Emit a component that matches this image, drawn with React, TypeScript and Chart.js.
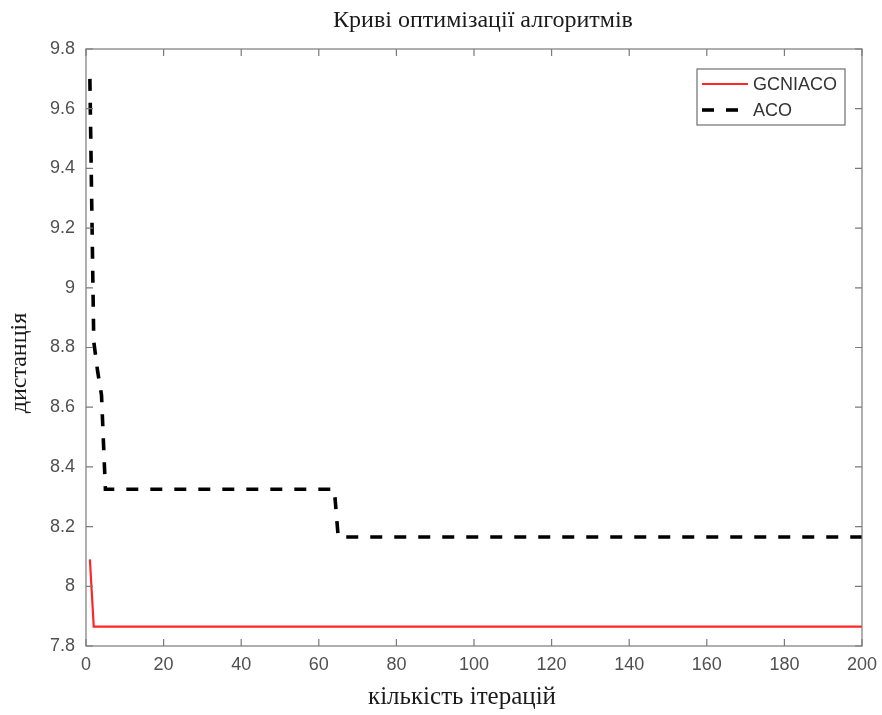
import React, { useEffect, useRef } from 'react';
import { Chart, registerables } from 'chart.js';

Chart.register(...registerables);

const chartTitle = 'Криві оптимізації алгоритмів';
const xAxisTitle = 'кількість ітерацій';
const yAxisTitle = 'дистанція';

const seriesNames = ['GCNIACO', 'ACO'];
// step-change points (values are constant between them)
const gcniacoIter = [1, 2, 200];
const gcniacoDist = [8.09, 7.865, 7.865];
const acoIter = [1, 2, 3, 4, 5, 64, 65, 200];
const acoDist = [9.7, 8.82, 8.72, 8.64, 8.325, 8.325, 8.165, 8.165];

const xMin = 0;
const xMax = 200;
const xStep = 20;
const yMin = 7.8;
const yMax = 9.8;
const yStep = 0.2;

const AXIS_GREY = '#7a7a7a';
const TICK_TEXT = '#505050';
const SANS = '"Liberation Sans", Arial, sans-serif';
const SERIF = '"Liberation Serif", "Times New Roman", serif';

const framePlugin = {
  id: 'matlabFrame',
  afterDatasetsDraw(chart: any) {
    const { ctx, chartArea: a, scales } = chart;
    ctx.save();
    // frame
    ctx.strokeStyle = AXIS_GREY;
    ctx.lineWidth = 1.2;
    ctx.strokeRect(a.left, a.top, a.right - a.left, a.bottom - a.top);
    // inner ticks on all four sides
    const tl = 7;
    ctx.beginPath();
    scales.x.ticks.forEach((t: any) => {
      const px = scales.x.getPixelForValue(t.value);
      ctx.moveTo(px, a.bottom);
      ctx.lineTo(px, a.bottom - tl);
      ctx.moveTo(px, a.top);
      ctx.lineTo(px, a.top + tl);
    });
    scales.y.ticks.forEach((t: any) => {
      const py = scales.y.getPixelForValue(t.value);
      ctx.moveTo(a.left, py);
      ctx.lineTo(a.left + tl, py);
      ctx.moveTo(a.right, py);
      ctx.lineTo(a.right - tl, py);
    });
    ctx.stroke();

    // legend box (top-right inside plot)
    const bw = 148;
    const bh = 56;
    const bx = a.right - 17 - bw;
    const by = a.top + 20;
    ctx.fillStyle = '#ffffff';
    ctx.fillRect(bx, by, bw, bh);
    ctx.strokeStyle = AXIS_GREY;
    ctx.lineWidth = 1.3;
    ctx.strokeRect(bx, by, bw, bh);
    chart.data.datasets.forEach((ds: any, i: number) => {
      const y = by + 15 + i * 26;
      ctx.save();
      ctx.strokeStyle = ds.borderColor;
      ctx.lineWidth = ds.borderWidth;
      ctx.setLineDash(ds.borderDash || []);
      ctx.beginPath();
      ctx.moveTo(bx + 5, y);
      ctx.lineTo(bx + (ds.borderDash ? 43 : 51), y);
      ctx.stroke();
      ctx.restore();
      ctx.fillStyle = '#333333';
      ctx.font = `18px ${SANS}`;
      ctx.textAlign = 'left';
      ctx.textBaseline = 'middle';
      ctx.fillText(ds.label, bx + 56, y + 1);
    });

    // titles (serif, MATLAB-like placement)
    ctx.fillStyle = '#1a1a1a';
    ctx.textAlign = 'center';
    ctx.textBaseline = 'middle';
    ctx.font = `24px ${SERIF}`;
    ctx.fillText(chartTitle, (a.left + a.right) / 2 + 9, 21);
    ctx.font = `25px ${SERIF}`;
    ctx.fillText(xAxisTitle, (a.left + a.right) / 2 - 12, 697);

    ctx.translate(20, 363);
    ctx.rotate(-Math.PI / 2);
    ctx.font = `24px ${SERIF}`;
    ctx.fillText(yAxisTitle, 0, 0);
    ctx.restore();
  },
};

export default function App() {
  const canvasRef = useRef<HTMLCanvasElement | null>(null);

  useEffect(() => {
    if (!canvasRef.current) return;
    const chart = new Chart(canvasRef.current, {
      type: 'line',
      data: {
        datasets: [
          {
            label: seriesNames[0],
            data: gcniacoIter.map((x, i) => ({ x, y: gcniacoDist[i] })),
            borderColor: '#ff2626',
            borderWidth: 2.2,
            pointRadius: 0,
            tension: 0,
            fill: false,
          },
          {
            label: seriesNames[1],
            data: acoIter.map((x, i) => ({ x, y: acoDist[i] })),
            borderColor: '#000000',
            borderWidth: 3.6,
            borderDash: [12, 12],
            pointRadius: 0,
            tension: 0,
            fill: false,
          },
        ],
      },
      options: {
        animation: false,
        responsive: true,
        maintainAspectRatio: false,
        layout: { padding: { left: 0, right: 20, top: 49, bottom: 0 } },
        plugins: {
          legend: { display: false },
          tooltip: { enabled: false },
          title: { display: false },
        },
        scales: {
          x: {
            type: 'linear',
            min: xMin,
            max: xMax,
            grid: { display: false, drawTicks: false },
            border: { display: false },
            ticks: {
              stepSize: xStep,
              color: TICK_TEXT,
              font: { family: SANS, size: 18 },
              padding: 8,
              maxRotation: 0,
            },
            afterFit: (scale: any) => {
              scale.height = 69;
              scale.paddingLeft = 0;
              scale.paddingRight = 0;
            },
          },
          y: {
            type: 'linear',
            min: yMin,
            max: yMax,
            grid: { display: false, drawTicks: false },
            border: { display: false },
            ticks: {
              stepSize: yStep,
              color: TICK_TEXT,
              font: { family: SANS, size: 18 },
              padding: 11,
              callback: (v: any) => String(Number(Number(v).toFixed(1))),
            },
            afterFit: (scale: any) => {
              scale.width = 86;
              scale.paddingTop = 0;
              scale.paddingBottom = 0;
            },
          },
        },
      },
      plugins: [framePlugin],
    });
    return () => chart.destroy();
  }, []);

  return (
    <div
      style={{
        position: 'fixed',
        left: 0,
        top: 0,
        width: 882,
        height: 715,
        background: '#ffffff',
      }}
    >
      <canvas ref={canvasRef} />
    </div>
  );
}
